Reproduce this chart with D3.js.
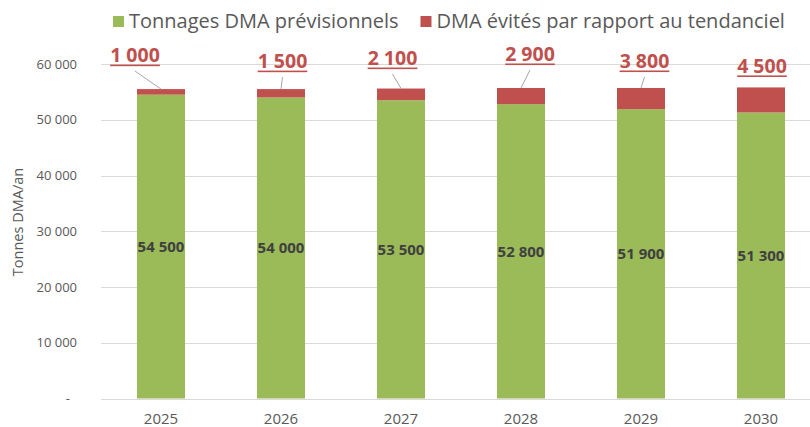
<!doctype html>
<html lang="fr">
<head>
<meta charset="utf-8">
<title>Tonnages DMA</title>
<script src="https://cdn.jsdelivr.net/npm/d3@7"></script>
<style>
  body { margin: 0; background: #fff; }
  svg { display: block; font-family: "Open Sans", sans-serif; }
</style>
</head>
<body>
<div id="chart"></div>
<script>
// data
const years = ['2025', '2026', '2027', '2028', '2029', '2030'];
const tonnages = [54500, 54000, 53500, 52800, 51900, 51300];
const evites = [1000, 1500, 2100, 2900, 3800, 4500];
const yTicks = [0, 10000, 20000, 30000, 40000, 50000, 60000];
const seriesNames = ['Tonnages DMA prévisionnels', 'DMA évités par rapport au tendanciel'];
const yTitle = 'Tonnes DMA/an';

// where Excel dropped the red labels, relative to the top of each bar
const labelOffsets = [[-26, -27], [1.5, -21], [-8.5, -23.5], [9, -27], [3.5, -20], [1, -14.5]];

const width = 810, height = 427;
const green = '#9bbb59', red = '#c0504d';

const svg = d3.select('#chart').append('svg')
    .attr('width', width)
    .attr('height', height);

const x = d3.scaleBand()
    .domain(years)
    .range([101, 821])
    .paddingInner(0.6)
    .paddingOuter(0.3);

const y = d3.scaleLinear()
    .domain([0, 60000])
    .range([398.5, 64]);

const fr = d3.formatLocale({decimal: ',', thousands: '\u00a0', grouping: [3]});
const fmt = v => v === 0 ? '-' : fr.format(',d')(v);

// gridlines
svg.append('g')
    .selectAll('line')
    .data(yTicks)
    .join('line')
    .attr('x1', 101)
    .attr('x2', width)
    .attr('y1', d => Math.round(y(d)) + 0.5)
    .attr('y2', d => Math.round(y(d)) + 0.5)
    .attr('stroke', '#d9d9d9')
    .attr('stroke-width', 1);

// y tick labels
svg.append('g')
    .selectAll('text')
    .data(yTicks)
    .join('text')
    .attr('x', d => d === 0 ? 70 : 77)
    .attr('y', d => y(d))
    .attr('dy', '0.35em')
    .attr('text-anchor', 'end')
    .style('font-size', '13px')
    .style('fill', '#595959')
    .text(fmt);

svg.append('text')
    .attr('transform', 'translate(23,222) rotate(-90)')
    .attr('text-anchor', 'middle')
    .style('font-size', '14.5px')
    .style('fill', '#595959')
    .text(yTitle);

// x tick labels
svg.append('g')
    .selectAll('text')
    .data(years)
    .join('text')
    .attr('x', d => x(d) + x.bandwidth() / 2)
    .attr('y', 423.5)
    .attr('text-anchor', 'middle')
    .style('font-size', '15px')
    .style('fill', '#595959')
    .text(d => d);

// stacked bars
const rows = years.map((yr, i) => ({year: yr, base: tonnages[i], top: evites[i], total: tonnages[i] + evites[i]}));

svg.append('g')
    .selectAll('rect')
    .data(rows)
    .join('rect')
    .attr('x', d => x(d.year))
    .attr('width', x.bandwidth())
    .attr('y', d => y(d.base))
    .attr('height', d => y(0) - y(d.base))
    .attr('fill', green);

svg.append('g')
    .selectAll('rect')
    .data(rows)
    .join('rect')
    .attr('x', d => x(d.year))
    .attr('width', x.bandwidth())
    .attr('y', d => y(d.total))
    .attr('height', d => y(d.base) - y(d.total))
    .attr('fill', red);

// labels inside the green part
svg.append('g')
    .selectAll('text')
    .data(rows)
    .join('text')
    .attr('x', d => x(d.year) + x.bandwidth() / 2)
    .attr('y', d => (y(d.base) + y(0)) / 2)
    .attr('dy', '0.35em')
    .attr('text-anchor', 'middle')
    .style('font-size', '15px')
    .style('font-weight', 'bold')
    .style('fill', '#404040')
    .text(d => fmt(d.base));

// red labels with leader lines
svg.append('g')
    .selectAll('g')
    .data(rows)
    .join('g')
    .each(function(d, i) {
        const g = d3.select(this);
        const cx = x(d.year) + x.bandwidth() / 2;
        const top = y(d.total);
        const lx = cx + labelOffsets[i][0];
        const ly = top + labelOffsets[i][1];

        const t = g.append('text')
            .attr('x', lx)
            .attr('y', ly)
            .attr('text-anchor', 'middle')
            .style('font-size', '19.5px')
            .style('font-weight', 'bold')
            .style('fill', red)
            .text(fmt(d.top));
        const w = t.node().getComputedTextLength();

        g.append('rect')
            .attr('x', lx - w / 2)
            .attr('y', ly + 2.5)
            .attr('width', w)
            .attr('height', 1.6)
            .attr('fill', red);

        const sy = ly + 9;
        if (top - sy > 8) {
            g.append('line')
                .attr('x1', lx)
                .attr('y1', sy)
                .attr('x2', cx)
                .attr('y2', top)
                .attr('stroke', '#a6a6a6')
                .attr('stroke-width', 1);
        }
    });

// legend
const legend = svg.append('g');
let pos = 113;
seriesNames.forEach((name, i) => {
    legend.append('rect')
        .attr('x', pos)
        .attr('y', 16)
        .attr('width', 11)
        .attr('height', 11)
        .attr('fill', i === 0 ? green : red);
    const t = legend.append('text')
        .attr('x', pos + 16)
        .attr('y', 28)
        .style('font-size', '20px')
        .style('fill', '#595959')
        .text(name);
    pos += 16 + t.node().getComputedTextLength() + 22;
});
</script>
</body>
</html>
